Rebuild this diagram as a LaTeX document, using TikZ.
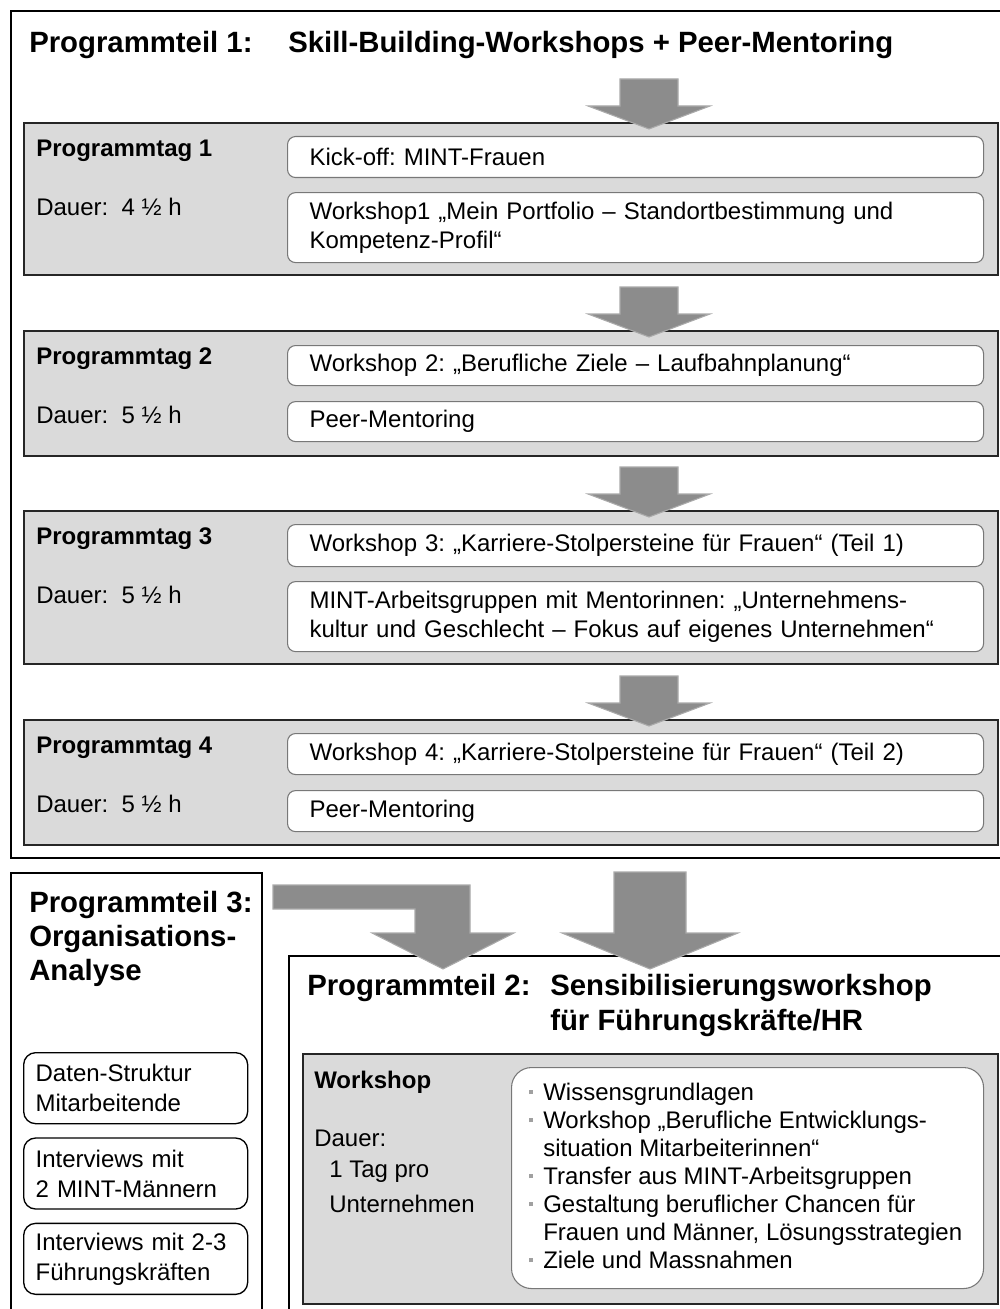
\documentclass[tikz,border=0pt]{standalone}
\usepackage{fontspec}
\setmainfont{Liberation Sans}
\usetikzlibrary{positioning}
\definecolor{boxgray}{RGB}{218,218,218}
\definecolor{edgedark}{RGB}{38,38,38}
\definecolor{itemline}{RGB}{120,120,120}
\definecolor{arrowgray}{RGB}{140,140,140}
\definecolor{arrowedge}{RGB}{170,170,170}
\definecolor{bulgray}{RGB}{160,160,160}
\tikzset{%
   part/.style={draw=black, line width=1.4pt, fill=white, anchor=north west, inner sep=0pt},
   daybox/.style={draw=edgedark, line width=1.2pt, fill=boxgray, anchor=north west,
      inner sep=0pt, minimum width=730.5pt},
   item/.style={draw=itemline, line width=0.8pt, fill=white, rounded corners=6pt,
      anchor=north west, text width=489pt, inner xsep=16.5pt, inner ysep=0pt,
      align=left, font=\fontsize{18}{21.5}\selectfont},
   anabox/.style={draw=black, line width=1pt, fill=white, rounded corners=9pt,
      anchor=north west, text width=150pt, inner xsep=9pt, inner ysep=0pt,
      minimum height=53.25pt, align=left, font=\fontsize{18}{22.5}\selectfont},
   title/.style={anchor=base west, inner sep=0pt, align=left,
      font=\fontsize{22}{26}\selectfont\bfseries},
   lbl/.style={anchor=base west, inner sep=0pt, align=left, font=\fontsize{18}{22}\selectfont},
   blockarrow/.style={fill=arrowgray, draw=arrowedge, line width=0.8pt},
}
\newcommand\bul{\makebox[10.5pt][l]{\textcolor{bulgray}{\rule[4.9pt]{3pt}{3pt}}}}
\newcommand\dayarrow[1]{%
  \draw[blockarrow] (#1) -- ++(61,-23) -- ++(-32,0) -- ++(0,-27) -- ++(-58,0)
    -- ++(0,27) -- ++(-32,0) -- cycle;%
}
\begin{document}
\frenchspacing
\begin{tikzpicture}[x=0.75pt, y=-0.75pt]
   \useasboundingbox (0,0) rectangle (999,1309);
   % Programmteil 1
   \node[part, minimum width=750pt, minimum height=634.9pt] (teil1) at (10,10.5) {};
   \node[title] (t1a) at ([shift={(19,42)}]teil1.north west) {Programmteil 1:};
   \node[title] (t1b) at ([shift={(278,42)}]teil1.north west) {Skill-Building-Workshops + Peer-Mentoring};
   \foreach \n/\yy/\hh/\hrs in {1/122/114/4, 2/330/93.75/5, 3/510/114.75/5, 4/719/93.75/5} {
      \node[daybox, minimum height=\hh pt] (tag\n) at (23,\yy) {};
      \node[lbl, font=\fontsize{18}{22}\selectfont\bfseries] (name\n)
         at ([shift={(13,34.6)}]tag\n.north west) {Programmtag \n};
      \node[lbl] (dauer\n) at ([shift={(13,93.6)}]tag\n.north west) {Dauer:\ \ \hrs\ ½ h};
   }
   \node[item, minimum height=30.75pt] (kick) at (287,136) {Kick-off: MINT-Frauen};
   \node[item, minimum height=52.5pt, below=10.5pt of kick] (ws1)
      {Workshop1 „Mein Portfolio – Standortbestimmung und\\Kompetenz-Profil“};
   \node[item, minimum height=30pt] (ws2) at (287,345) {Workshop 2: „Berufliche Ziele – Laufbahnplanung“};
   \node[item, minimum height=30pt, below=11.25pt of ws2] (peer2) {Peer-Mentoring};
   \node[item, minimum height=31.5pt] (ws3) at (287,524) {Workshop 3: „Karriere-Stolpersteine für Frauen“ (Teil 1)};
   \node[item, minimum height=52.5pt, below=10.5pt of ws3] (mint)
      {MINT-Arbeitsgruppen mit Mentorinnen: „Unternehmens-\\kultur und Geschlecht – Fokus auf eigenes Unternehmen“};
   \node[item, minimum height=30.75pt] (ws4) at (287,733) {Workshop 4: „Karriere-Stolpersteine für Frauen“ (Teil 2)};
   \node[item, minimum height=30.75pt, below=11.25pt of ws4] (peer4) {Peer-Mentoring};
   \foreach \n in {1,...,4} {
      \coordinate (tip\n) at ([shift={(626,7)}]tag\n.north west);
      \dayarrow{tip\n}
   }
   % Programmteil 3
   \node[part, minimum width=188.25pt, minimum height=336pt] (teil3) at (10,872) {};
   \node[title, font=\fontsize{22}{25.5}\selectfont\bfseries] (t3)
      at ([shift={(19,108.4)}]teil3.north west) {Programmteil 3:\\Organisations-\\Analyse};
   \node[anabox] (ana1) at (23,1052) {Daten-Struktur\\Mitarbeitende};
   \node[anabox, below=9.75pt of ana1] (ana2) {Interviews mit\\2 MINT-Männern};
   \node[anabox, below=9.75pt of ana2] (ana3) {Interviews mit 2-3\\Führungskräften};
   % Programmteil 2
   \node[part, minimum width=541.5pt, minimum height=273.75pt] (teil2) at (288,955) {};
   \node[title] (t2a) at ([shift={(19,40.4)}]teil2.north west) {Programmteil 2:};
   \node[title, font=\fontsize{22}{26.25}\selectfont\bfseries] (t2b)
      at ([shift={(262,75.4)}]teil2.north west) {Sensibilisierungsworkshop\\für Führungskräfte/HR};
   \node[daybox, minimum width=521.25pt, minimum height=187.5pt] (wsday) at (302,1053) {};
   \node[lbl, font=\fontsize{18}{22}\selectfont\bfseries] (wsname)
      at ([shift={(12,35.6)}]wsday.north west) {Workshop};
   \node[lbl] (wsdauer) at ([shift={(12,93.6)}]wsday.north west) {Dauer:};
   \node[lbl, font=\fontsize{18}{26.25}\selectfont] (wstag)
      at ([shift={(27,159)}]wsday.north west) {1 Tag pro\\Unternehmen};
   \node[draw=itemline, line width=0.8pt, fill=white, rounded corners=15pt, anchor=north west,
      minimum width=354pt, minimum height=165.75pt, inner sep=0pt] (wsitems) at (511,1067) {};
   \node[lbl, font=\fontsize{18}{21}\selectfont] (wslist) at ([shift={(18,201.6)}]wsitems.north west)
      {\bul Wissensgrundlagen\\
       \bul Workshop „Berufliche Entwicklungs-\\
       \hspace*{10.5pt}situation Mitarbeiterinnen“\\
       \bul Transfer aus MINT-Arbeitsgruppen\\
       \bul Gestaltung beruflicher Chancen für\\
       \hspace*{10.5pt}Frauen und Männer, Lösungsstrategien\\
       \bul Ziele und Massnahmen};
   % arrows into Programmteil 2
   \coordinate (pin3) at ([shift={(155,14)}]teil2.north west);
   \coordinate (pin1) at ([shift={(362,14)}]teil2.north west);
   \draw[blockarrow] (pin3) -- ++(71,-36) -- ++(-44,0) -- ++(0,-48) -- ++(-197,0)
      -- ++(0,24) -- ++(142,0) -- ++(0,24) -- ++(-43,0) -- cycle;
   \draw[blockarrow] (pin1) -- ++(88,-36) -- ++(-52,0) -- ++(0,-61) -- ++(-72,0)
      -- ++(0,61) -- ++(-52,0) -- cycle;
\end{tikzpicture}
\end{document}
